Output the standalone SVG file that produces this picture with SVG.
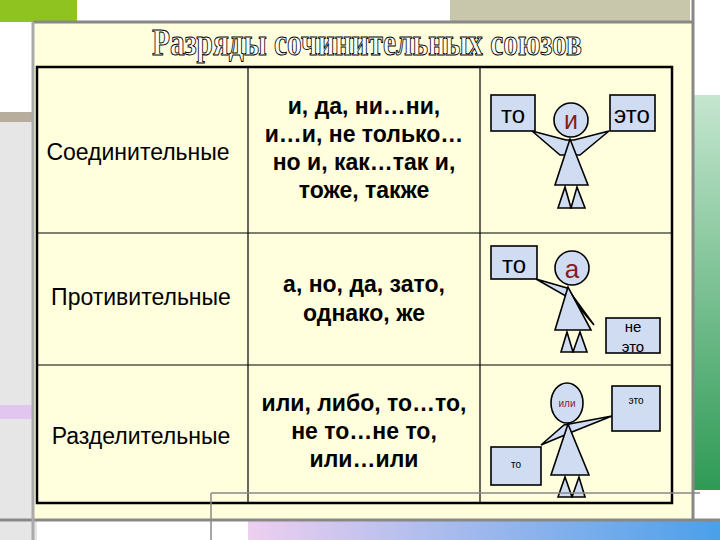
<svg xmlns="http://www.w3.org/2000/svg" width="720" height="540" viewBox="0 0 720 540">
<defs>
<linearGradient id="g" x1="0" y1="0" x2="0" y2="1"><stop offset="0" stop-color="#c5e6cf"/><stop offset="1" stop-color="#2e9a55"/></linearGradient>
<linearGradient id="p" x1="0" y1="0" x2="1" y2="0"><stop offset="0" stop-color="#eecff0"/><stop offset="1" stop-color="#4aa0ea"/></linearGradient>
</defs>
<style>
.t{font-family:"Liberation Sans",Arial,sans-serif;fill:#000}
.b{font-weight:bold;font-size:23px;text-anchor:middle}
.l{font-size:23px;text-anchor:middle}
.f{fill:#cfdcf2;stroke:#000;stroke-width:1.6}
</style>
<rect width="720" height="540" fill="#fff"/>
<rect x="0" y="0" width="77" height="22" fill="#8fc31f"/>
<rect x="450" y="0" width="240" height="48" fill="#c9c7ab"/>
<rect x="0" y="80" width="37" height="460" fill="#e6e6e6"/>
<rect x="0" y="30" width="37" height="82" fill="#fff"/>
<rect x="0" y="112" width="37" height="10" fill="#b8ad9c"/>
<rect x="0" y="405" width="37" height="14" fill="#e3c6ef"/>
<rect x="690" y="95" width="30" height="395" fill="url(#g)"/>
<rect x="248" y="520" width="472" height="20" fill="url(#p)"/>
<rect x="33" y="22" width="660" height="498" fill="#fffedd"/>
<line x1="33" y1="22" x2="693" y2="22" stroke="#888" stroke-width="3"/>
<line x1="693" y1="0" x2="693" y2="520" stroke="#888" stroke-width="3"/>
<line x1="0" y1="520" x2="720" y2="520" stroke="#888" stroke-width="3"/>
<line x1="33" y1="22" x2="33" y2="540" stroke="#aaa" stroke-width="3"/>
<text x="367" y="55" font-family="Liberation Serif,serif" font-size="38" font-weight="bold" fill="#fff" stroke="#000" stroke-width="1" text-anchor="middle" textLength="430" lengthAdjust="spacingAndGlyphs">Разряды сочинительных союзов</text>
<g id="table">
<rect x="37" y="67" width="635" height="436" fill="none" stroke="#000" stroke-width="2.5"/>
<line x1="248" y1="67" x2="248" y2="503" stroke="#000" stroke-width="1.2"/>
<line x1="480" y1="67" x2="480" y2="503" stroke="#000" stroke-width="1.2"/>
<line x1="37" y1="233" x2="672" y2="233" stroke="#000" stroke-width="1.2"/>
<line x1="37" y1="365" x2="672" y2="365" stroke="#000" stroke-width="1.2"/>
</g>
<g id="r1">
<text class="t l" x="138" y="160">Соединительные</text>
<text class="t b" x="364" y="114">и, да, ни…ни,</text>
<text class="t b" x="364" y="142">и…и, не только…</text>
<text class="t b" x="364" y="170">но и, как…так и,</text>
<text class="t b" x="364" y="198">тоже, также</text>
</g>
<g id="r2">
<text class="t l" x="141" y="305">Противительные</text>
<text class="t b" x="364" y="292">а, но, да, зато,</text>
<text class="t b" x="364" y="321">однако, же</text>
</g>
<g id="r3">
<text class="t l" x="141" y="444">Разделительные</text>
<text class="t b" x="364" y="411">или, либо, то…то,</text>
<text class="t b" x="364" y="439">не то…не то,</text>
<text class="t b" x="364" y="467">или…или</text>
</g>
<g id="fig1">
<polygon class="f" points="532,131 566,140 574,140 609,131 580,155 560,155"/>
<polygon class="f" points="570,139 555,185 588,185"/>
<polygon class="f" points="558,208 565,187 571,208"/>
<polygon class="f" points="571,208 577,187 585,208"/>
<circle class="f" cx="571" cy="120" r="17"/>
<text class="t" x="571" y="129" font-size="25" text-anchor="middle" style="fill:#8b1a1a">и</text>
<rect class="f" x="491" y="95" width="44" height="36"/>
<text class="t" x="513" y="123" font-size="24" text-anchor="middle">то</text>
<rect class="f" x="610" y="95" width="45" height="36"/>
<text class="t" x="632" y="123" font-size="24" text-anchor="middle">это</text>
</g>
<g id="fig2">
<polygon class="f" points="536,279 567,288 594,325 573,300"/>
<polygon class="f" points="568,287 555,330 591,330"/>
<polygon class="f" points="561,352 567,332 573,352"/>
<polygon class="f" points="573,352 580,332 587,352"/>
<circle class="f" cx="572" cy="268" r="17"/>
<text class="t" x="572" y="278" font-size="26" text-anchor="middle" style="fill:#8b1a1a">а</text>
<rect class="f" x="491" y="246" width="46" height="33"/>
<text class="t" x="514" y="273" font-size="24" text-anchor="middle">то</text>
<rect class="f" x="606" y="318" width="54" height="35"/>
<text class="t" x="633" y="332" font-size="15" text-anchor="middle">не</text>
<text class="t" x="633" y="352" font-size="15" text-anchor="middle">это</text>
</g>
<g id="fig3">
<polygon class="f" points="541,445 564,425 612,416 572,432"/>
<polygon class="f" points="568,424 551,475 589,475"/>
<polygon class="f" points="558,497 565,477 572,497"/>
<polygon class="f" points="572,497 579,477 585,497"/>
<ellipse class="f" cx="567" cy="403" rx="16" ry="20"/>
<text class="t" x="567" y="407" font-size="10" text-anchor="middle" style="fill:#8b1a4a">или</text>
<rect class="f" x="612" y="386" width="48" height="45"/>
<text class="t" x="636" y="404" font-size="10" text-anchor="middle">это</text>
<rect class="f" x="491" y="447" width="50" height="38"/>
<text class="t" x="516" y="468" font-size="10" text-anchor="middle">то</text>
</g>
<line x1="211" y1="493" x2="700" y2="493" stroke="#888" stroke-width="1.5"/>
<line x1="211" y1="493" x2="211" y2="540" stroke="#888" stroke-width="1.5"/>
</svg>
